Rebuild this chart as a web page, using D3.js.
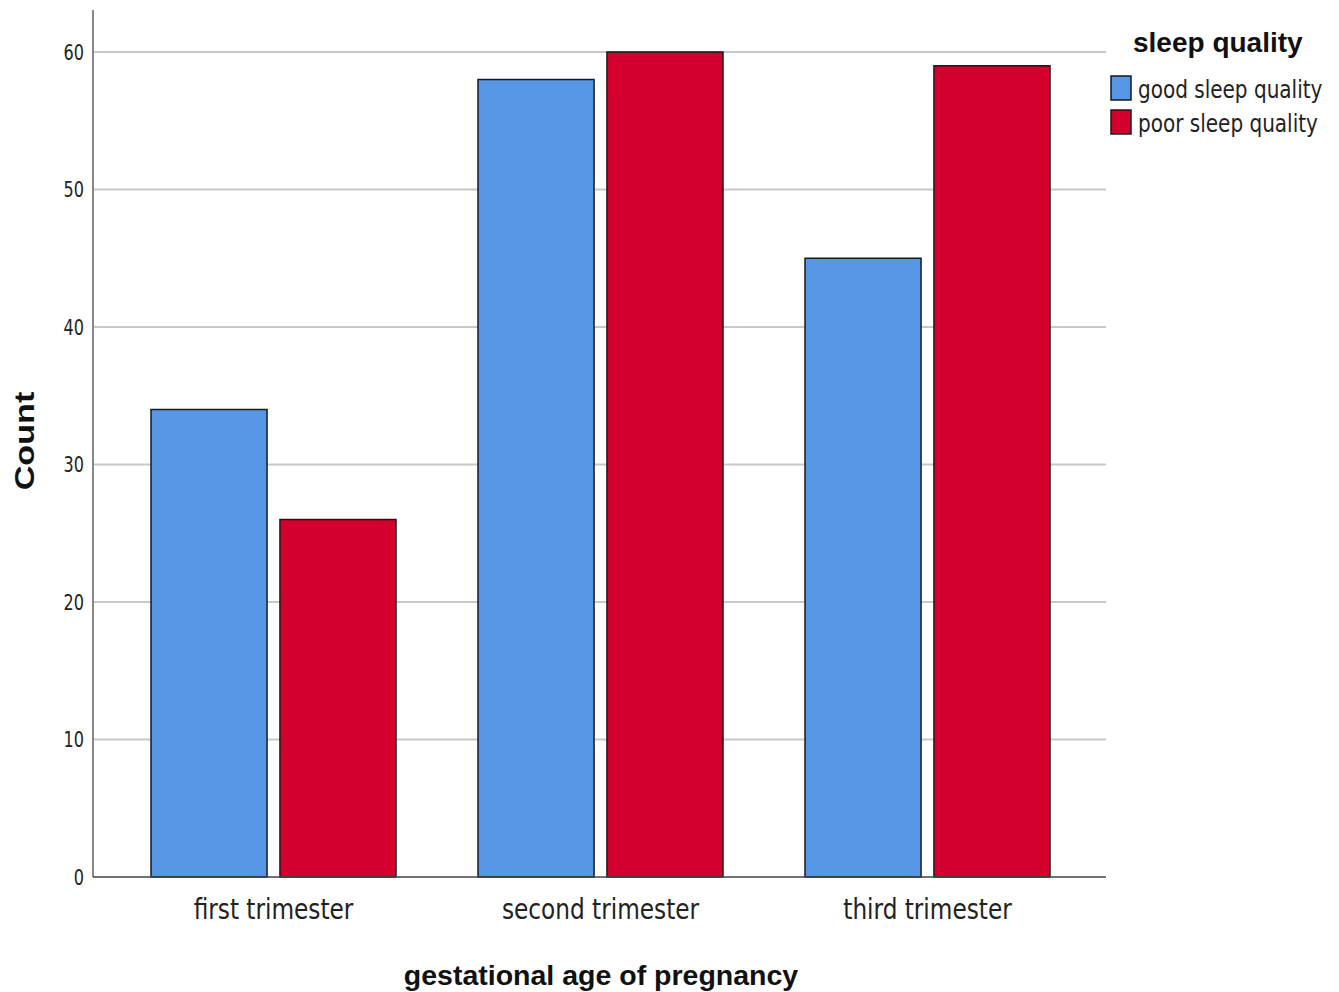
<!DOCTYPE html>
<html><head><meta charset="utf-8">
<script src="https://cdn.jsdelivr.net/npm/d3@7"></script>
<style>
body{margin:0;background:#fff;}
.cond{font-family:"DejaVu Sans Condensed","DejaVu Sans",sans-serif;font-stretch:condensed;}
.bold{font-family:"Liberation Sans",Arial,sans-serif;font-weight:bold;}
</style></head>
<body>
<svg id="chart" width="1339" height="992"></svg>
<script>
const categories = ["first trimester","second trimester","third trimester"];
const seriesNames = ["good sleep quality","poor sleep quality"];
const goodValues = [34,58,45];
const poorValues = [26,60,59];
const yTicks = [0,10,20,30,40,50,60];
const colors = ["#5596e5","#d3002e"];

const svg = d3.select("#chart");
const y = d3.scaleLinear().domain([0,60]).range([877,52]);
const x0 = d3.scaleBand().domain(categories).range([110,1091]).padding(0);
const x1 = d3.scaleBand().domain(seriesNames).range([41,286]).paddingInner(0.1).paddingOuter(0);

// gridlines
svg.append("g").selectAll("line").data(yTicks.filter(d=>d>0)).join("line")
  .attr("x1",93).attr("x2",1106).attr("y1",d=>y(d)).attr("y2",d=>y(d))
  .attr("stroke","#c8c8c8").attr("stroke-width",2);

// bars
const data = categories.map((c,i)=>({cat:c, vals:[goodValues[i],poorValues[i]]}));
const g = svg.append("g").selectAll("g").data(data).join("g")
  .attr("transform",d=>`translate(${x0(d.cat)},0)`);
g.selectAll("rect").data(d=>d.vals.map((v,j)=>({s:seriesNames[j],v,j}))).join("rect")
  .attr("x",d=>x1(d.s)).attr("width",x1.bandwidth())
  .attr("y",d=>y(d.v)).attr("height",d=>y(0)-y(d.v))
  .attr("fill",d=>colors[d.j]).attr("stroke","#1a1a1a").attr("stroke-width",1.5);

// axes lines
svg.append("line").attr("x1",93).attr("x2",93).attr("y1",10).attr("y2",877)
  .attr("stroke","#888").attr("stroke-width",2);
svg.append("line").attr("x1",93).attr("x2",1106).attr("y1",877).attr("y2",877)
  .attr("stroke","#444").attr("stroke-width",1.5);

// y tick labels
svg.append("g").selectAll("text").data(yTicks).join("text")
  .attr("class","cond")
  .attr("transform",d=>`translate(84,${y(d)}) scale(0.85,1)`).attr("dy","0.36em")
  .attr("text-anchor","end").attr("font-size",21).attr("fill","#222")
  .text(d=>d);

// category labels
svg.append("g").selectAll("text").data(categories).join("text")
  .attr("class","cond")
  .attr("transform",d=>`translate(${x0(d)+x0.bandwidth()/2},919) scale(0.89,1)`)
  .attr("text-anchor","middle").attr("font-size",29).attr("fill","#222")
  .text(d=>d);

// axis titles
svg.append("text").attr("class","bold").attr("x",601).attr("y",985).attr("text-anchor","middle")
  .attr("font-size",28.5).attr("fill","#111").text("gestational age of pregnancy");
svg.append("text").attr("class","bold").attr("transform","translate(34,441) rotate(-90) scale(1.22,1)")
  .attr("text-anchor","middle")
  .attr("font-size",28).attr("fill","#111").text("Count");

// legend
svg.append("text").attr("class","bold").attr("x",1133).attr("y",52)
  .attr("font-size",28).attr("fill","#111").text("sleep quality");
const lg = svg.append("g").selectAll("g").data(seriesNames).join("g")
  .attr("transform",(d,i)=>`translate(1111,${76+i*34})`);
lg.append("rect").attr("width",20).attr("height",24)
  .attr("fill",(d,i)=>colors[i]).attr("stroke","#1a1a1a").attr("stroke-width",1.5);
lg.append("text").attr("class","cond").attr("transform","translate(27,13) scale(0.89,1)").attr("dy","0.36em")
  .attr("font-size",25).attr("fill","#222").text(d=>d);
</script>
</body></html>
